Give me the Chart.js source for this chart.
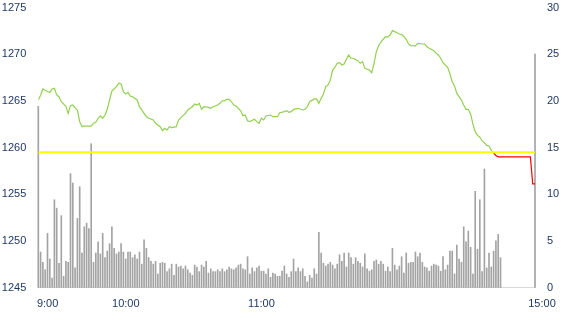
<!DOCTYPE html>
<html>
<head>
<meta charset="utf-8">
<script src="https://cdn.jsdelivr.net/npm/chart.js@4"></script>
<style>
  html, body { margin: 0; padding: 0; background: #fff; }
  canvas { display: block; }
</style>
</head>
<body>
<canvas id="chart" width="570" height="330"></canvas>
<script>
// minute slots 0..216, tick labels at a few slots
const tickIdx = [1, 35, 94, 216];
const tickLabels = ['9:00', '10:00', '11:00', '15:00'];

// volume bars per slot (right axis)
const volume = [
  19.4, 3.8, 2.7, 1.9, 5.8, 3.05, 1.0, 9.4, 8.5, 2.6, 7.7, 1.2, 2.8, 2.7, 12.2, 11.2, 2.1, 7.4, 10.8, 3.7, 6.5, 6.9, 6.3, 15.4, 2.7, 3.7, 4.9, 3.6, 5.8, 3.2, 3.9, 4.7, 6.5, 4.2, 3.6, 3.8, 4.7, 3.8, 3.05, 3.8, 3.8, 3.2,
  3.5, 3.05, 3.8, 2.5, 5.1, 4.2, 3.2, 2.8, 2.5, 2.8, 1.45, 2.6, 2.7, 2.6, 1.7, 2.0, 2.5, 1.3, 2.5, 2.2, 2.3, 2.0, 2.3, 1.9, 1.55, 1.3, 2.4, 2.2, 1.7, 2.4, 2.2, 2.8, 1.55, 2.0, 1.7, 1.7, 1.9, 1.7, 2.0, 1.7, 1.9, 2.2, 2.0, 1.9,
  2.1, 2.4, 2.5, 2.0, 1.9, 3.3, 1.45, 2.1, 1.7, 2.1, 2.3, 1.75, 1.75, 1.45, 2.0, 1.1, 1.55, 1.45, 1.2, 1.2, 1.75, 2.3, 1.45, 1.1, 1.7, 3.05, 1.7, 2.1, 1.7, 2.0, 1.2, 0.6, 1.3, 1.0, 2.0, 1.45, 5.9, 3.7, 2.6, 2.3, 2.5, 2.7, 2.4,
  2.0, 2.5, 3.5, 2.8, 3.7, 2.2, 3.7, 3.2, 2.5, 3.2, 2.8, 2.6, 2.2, 3.6, 2.0, 1.75, 1.9, 2.8, 2.95, 2.5, 2.8, 2.5, 1.75, 2.2, 1.7, 4.2, 2.4, 1.9, 2.3, 3.3, 1.55, 3.7, 2.6, 2.7, 2.7, 3.8, 3.3, 3.7, 2.7, 2.2, 2.1, 1.75, 2.3, 2.5,
  2.4, 2.3, 1.75, 3.3, 1.9, 2.4, 3.9, 3.9, 1.45, 4.55, 3.05, 2.7, 6.5, 4.9, 6.05, 4.3, 1.45, 10.3, 4.1, 9.4, 1.7, 12.7, 2.1, 3.7, 2.2, 3.9, 5.0, 5.7, 3.2,
  null, null, null, null, null, null, null, null, null, null, null, null, null, null,
  25
];

// price line (left axis), read at these slots
const priceIdx = [
  0, 1, 2, 4, 5, 6, 7, 8, 9, 10, 12, 13, 14, 15, 17, 18, 19, 20, 22, 23, 24, 25, 26, 27, 28, 29, 30, 31, 32, 34, 35, 36, 37, 38, 39, 40,
  41, 43, 44, 46, 47, 48, 50, 51, 53, 54, 55, 56, 57, 58, 60, 61, 62, 64, 65, 67, 68, 69, 70, 71, 72, 74, 75, 76, 78, 79, 80, 81, 82, 83,
  84, 85, 86, 88, 89, 90, 91, 92, 94, 95, 96, 97, 98, 99, 101, 102, 104, 105, 107, 108, 109, 110, 111, 113, 115, 116, 117, 118, 120, 121,
  122, 123, 124, 125, 126, 127, 128, 129, 130, 131, 132, 133, 134, 135, 136, 137, 139, 140, 141, 142, 144, 145, 146, 147, 148, 149, 150,
  151, 152, 153, 154, 156, 157, 158, 159, 160, 161, 162, 164, 165, 167, 168, 169, 170, 172, 173, 174, 175, 176, 178, 179, 180, 181, 182,
  183, 184, 185, 186, 187, 188, 189, 190, 191, 192, 193, 194, 195, 196, 197, 198
];
const price = [
  1265.1, 1265.6, 1266.27, 1266.0, 1265.9, 1266.27, 1266.34, 1265.63, 1265.44, 1264.9, 1264.4, 1263.66, 1264.48, 1264.55, 1264.0, 1262.77, 1262.23, 1262.3, 1262.3, 1262.3, 1262.6, 1262.7, 1263.13, 1263.38, 1263.13, 1263.48, 1264.09, 1265.09, 1266.05, 1266.52, 1266.88, 1266.8, 1265.98, 1265.73, 1265.91, 1265.52,
  1265.44, 1265.09, 1264.37, 1263.66, 1263.3, 1263.13, 1262.95, 1262.6, 1262.23, 1261.8, 1262.06, 1261.88, 1262.23, 1262.13, 1262.23, 1262.95, 1263.2, 1263.66, 1264.02, 1264.37, 1264.66, 1264.55, 1264.73, 1264.09, 1264.37, 1264.3, 1264.2, 1264.37, 1264.55, 1264.73, 1265.0, 1265.0, 1265.16, 1265.16,
  1264.9, 1264.55, 1264.45, 1263.94, 1263.41, 1263.48, 1262.87, 1262.77, 1263.02, 1262.77, 1262.6, 1263.13, 1262.95, 1263.38, 1263.48, 1263.3, 1263.3, 1263.73, 1263.84, 1263.94, 1263.77, 1263.84, 1264.09, 1264.2, 1264.02, 1264.09, 1264.37, 1264.9, 1265.2, 1265.2,
  1264.73, 1265.27, 1265.73, 1266.52, 1266.7, 1267.23, 1268.3, 1268.6, 1269.02, 1269.09, 1268.84, 1268.95, 1269.45, 1269.91, 1269.56, 1269.56, 1269.3, 1269.02, 1269.2, 1268.48, 1268.3, 1268.01, 1269.02, 1270.27, 1270.9, 1271.3, 1271.6,
  1271.87, 1271.85, 1272.05, 1272.52, 1272.3, 1272.16, 1272.1, 1271.9, 1271.59, 1271.1, 1270.92, 1270.88, 1271.16, 1271.09, 1271.09, 1270.8, 1270.63, 1270.37, 1270.09, 1269.91, 1269.56, 1269.09, 1268.59, 1267.9, 1267.05, 1266.6, 1265.8,
  1265.45, 1265.09, 1264.55, 1264.09, 1264.09, 1263.6, 1262.5, 1261.7, 1261.3, 1261.1, 1260.7, 1260.5, 1260.23, 1260.16, 1259.7, 1259.4
];

// closing part of the price line, drawn red
const tailIdx = [198, 199, 200, 214, 215, 216];
const tailPrice = [1259.4, 1259.15, 1259.0, 1259.0, 1256.1, 1256.1];

const prevClose = 1259.5;

const textColor = '#1f3864';
const font = { family: "'Liberation Sans', Arial, sans-serif", size: 11 };

const pairs = (xs, ys) => xs.map((x, i) => ({ x, y: ys[i] }));

// fixed box sizes so the plot area lands where the reference has it
const fitY = (width, top) => axis => {
  axis.width = width;
  axis.paddingTop = top;
  axis.paddingBottom = 0;
};

new Chart(document.getElementById('chart'), {
  type: 'bar',
  data: {
    datasets: [
      {
        type: 'line', label: 'prev', yAxisID: 'y', order: 1,
        data: [{ x: 0, y: prevClose }, { x: volume.length - 1, y: prevClose }],
        borderColor: '#ffff00', borderWidth: 2, pointRadius: 0
      },
      {
        type: 'line', label: 'price', yAxisID: 'y', order: 2,
        data: pairs(priceIdx, price),
        borderColor: '#92d050', borderWidth: 1.2, pointRadius: 0, tension: 0
      },
      {
        type: 'line', label: 'tail', yAxisID: 'y', order: 3,
        data: pairs(tailIdx, tailPrice),
        borderColor: '#ff0000', borderWidth: 1.2, pointRadius: 0, tension: 0
      },
      {
        label: 'volume', yAxisID: 'y1', order: 4,
        data: volume.map((v, i) => ({ x: i, y: v })),
        backgroundColor: '#a3a3a3', barThickness: 1, clip: false
      }
    ]
  },
  options: {
    responsive: false,
    animation: false,
    layout: { padding: 0 },
    plugins: { legend: { display: false }, tooltip: { enabled: false } },
    scales: {
      x: {
        type: 'linear', min: 0, max: volume.length - 1, offset: false,
        grid: { display: false, drawTicks: false },
        border: { display: true, color: '#d9d9d9' },
        afterBuildTicks: axis => { axis.ticks = tickIdx.map(v => ({ value: v })); },
        afterFit: axis => { axis.height = 42.5; axis.paddingLeft = 0; axis.paddingRight = 0; },
        ticks: {
          autoSkip: false, maxRotation: 0, minRotation: 0, padding: 10, labelOffset: 7,
          color: textColor, font,
          callback: v => tickLabels[tickIdx.indexOf(v)] || ''
        }
      },
      y: {
        position: 'left', min: 1245, max: 1275,
        grid: { display: false, drawTicks: false },
        border: { display: false },
        afterFit: fitY(38.3, 7.5),
        ticks: { stepSize: 5, padding: 12, color: textColor, font, callback: v => String(v) }
      },
      y1: {
        position: 'right', min: 0, max: 30,
        grid: { display: false, drawTicks: false },
        border: { display: false },
        afterFit: fitY(35, 7.5),
        ticks: { stepSize: 5, padding: 12, color: textColor, font, callback: v => String(v) }
      }
    }
  }
});
</script>
</body>
</html>
